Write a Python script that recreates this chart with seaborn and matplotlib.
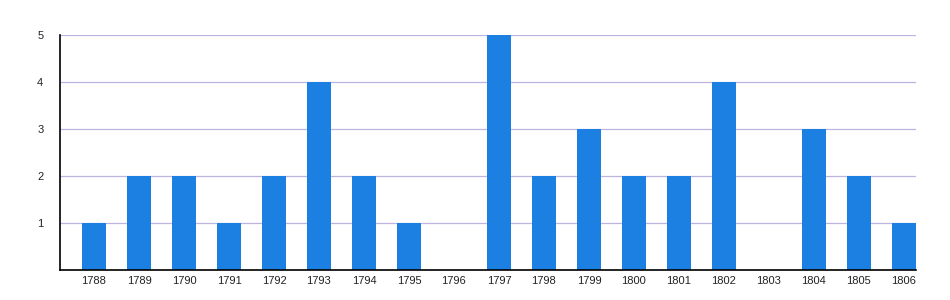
import matplotlib
matplotlib.use("Agg")
import matplotlib.pyplot as plt
import seaborn as sns
import pandas as pd

years = ["1788", "1789", "1790", "1791", "1792", "1793", "1794", "1795", "1796", "1797",
         "1798", "1799", "1800", "1801", "1802", "1803", "1804", "1805", "1806"]
counts = [1, 2, 2, 1, 2, 4, 2, 1, 0, 5, 2, 3, 2, 2, 4, 0, 3, 2, 1]

df = pd.DataFrame({"year": years, "count": counts})

sns.set_style("white")
plt.rcParams['font.family'] = ['Liberation Sans', 'DejaVu Sans']

fig = plt.figure(figsize=(9.5, 3), dpi=100)
ax = fig.add_axes([60/950, 30/300, 856/950, 235/300])

sns.barplot(data=df, x="year", y="count", order=years, color="#1c7fe2",
            saturation=1, width=0.52, ax=ax, zorder=3, linewidth=0, edgecolor="none")

ax.set_xlim(-0.756, 18.27)
ax.set_ylim(0, 5)
ax.set_yticks([1, 2, 3, 4, 5])
ax.yaxis.grid(True, color="#bdb4e0", linewidth=0.9, zorder=0)
ax.set_axisbelow(True)
ax.set_xlabel("")
ax.set_ylabel("")
for s in ["top", "right"]:
    ax.spines[s].set_visible(False)
for s in ["left", "bottom"]:
    ax.spines[s].set_color("black")
    ax.spines[s].set_linewidth(1.2)
    ax.spines[s].set_zorder(5)
ax.tick_params(axis="both", length=0, labelsize=8, colors="#222222")
ax.tick_params(axis="y", pad=12)
ax.tick_params(axis="x", pad=4)

fig.savefig("out.png", dpi=100)
